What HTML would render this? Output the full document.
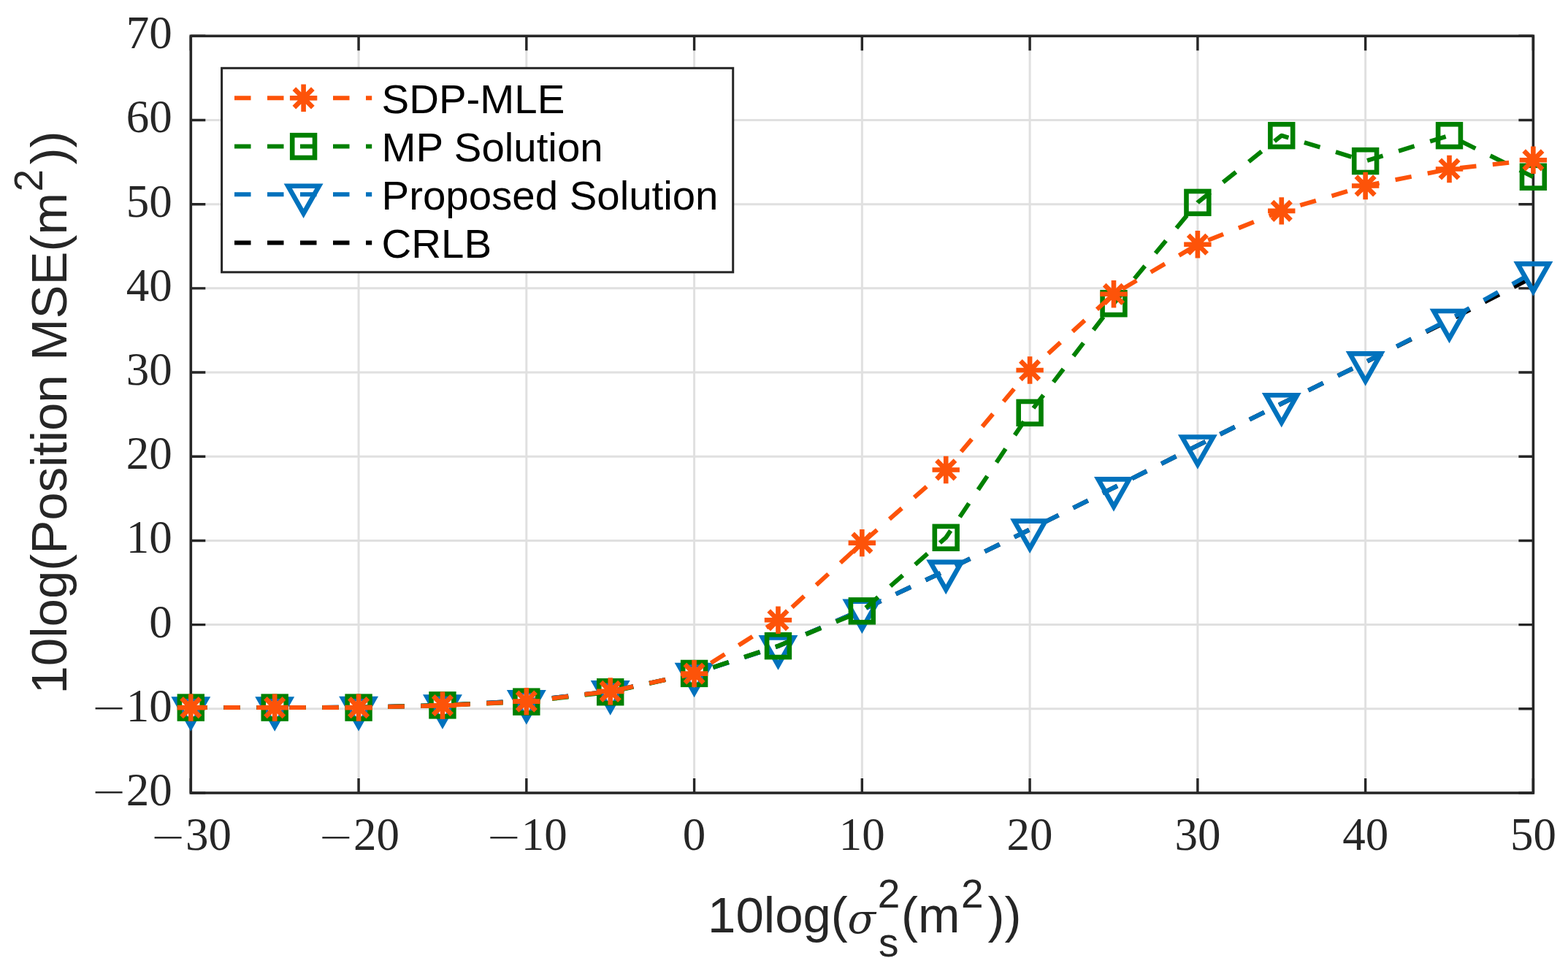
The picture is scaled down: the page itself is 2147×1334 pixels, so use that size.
<!DOCTYPE html><html><head><meta charset="utf-8"><title>Position MSE vs noise</title><style>html,body{margin:0;padding:0;background:#fff;width:2147px;height:1334px;overflow:hidden}svg{display:block}.tk{font-family:"Liberation Serif",serif;fill:#262626}.mn{font-family:"DejaVu Sans",sans-serif;font-weight:200;fill:#262626}.lb{font-family:"Liberation Sans",Arial,sans-serif;fill:#262626}.lg{font-family:"Liberation Sans",Arial,sans-serif;fill:#000}</style></head><body>
<svg width="2147" height="1334" viewBox="0 0 2147 1334">
<rect width="2147" height="1334" fill="#fff"/>
<path d="M491.06 49.3V1086M720.83 49.3V1086M950.59 49.3V1086M1180.35 49.3V1086M1410.11 49.3V1086M1639.88 49.3V1086M1869.64 49.3V1086M261.3 970.81H2099.4M261.3 855.62H2099.4M261.3 740.43H2099.4M261.3 625.24H2099.4M261.3 510.06H2099.4M261.3 394.87H2099.4M261.3 279.68H2099.4M261.3 164.49H2099.4" stroke="#e0e0e0" stroke-width="3.0" fill="none"/>
<path d="M261.3 1086V1066M261.3 49.3V69.3M491.06 1086V1066M491.06 49.3V69.3M720.83 1086V1066M720.83 49.3V69.3M950.59 1086V1066M950.59 49.3V69.3M1180.35 1086V1066M1180.35 49.3V69.3M1410.11 1086V1066M1410.11 49.3V69.3M1639.88 1086V1066M1639.88 49.3V69.3M1869.64 1086V1066M1869.64 49.3V69.3M2099.4 1086V1066M2099.4 49.3V69.3M261.3 1086H281.3M2099.4 1086H2079.4M261.3 970.81H281.3M2099.4 970.81H2079.4M261.3 855.62H281.3M2099.4 855.62H2079.4M261.3 740.43H281.3M2099.4 740.43H2079.4M261.3 625.24H281.3M2099.4 625.24H2079.4M261.3 510.06H281.3M2099.4 510.06H2079.4M261.3 394.87H281.3M2099.4 394.87H2079.4M261.3 279.68H281.3M2099.4 279.68H2079.4M261.3 164.49H281.3M2099.4 164.49H2079.4M261.3 49.3H281.3M2099.4 49.3H2079.4" stroke="#262626" stroke-width="3.4" fill="none"/>
<rect x="261.3" y="49.3" width="1838.1" height="1036.7" fill="none" stroke="#262626" stroke-width="3.6" stroke-linejoin="miter"/>
<polyline points="261.3,969.08 376.18,969.08 491.06,968.74 605.94,966.09 720.83,959.87 835.71,946.97 950.59,922.55 1065.47,885 1180.35,835.35 1295.23,781.44 1410.11,725.23 1524.99,667.98 1639.88,610.15 1754.76,552.79 1869.64,496 1984.52,438.64 2099.4,379.32" fill="none" stroke="#000000" stroke-width="6.0" stroke-dasharray="22.5 22.5" stroke-linejoin="round"/>
<polyline points="261.3,969.08 376.18,969.08 491.06,968.74 605.94,966.09 720.83,959.87 835.71,946.97 950.59,922.55 1065.47,885 1180.35,835.35 1295.23,781.44 1410.11,725.23 1524.99,667.98 1639.88,610.15 1754.76,552.79 1869.64,496 1984.52,437.6 2099.4,372.98" fill="none" stroke="#0072bd" stroke-width="6.0" stroke-dasharray="22.5 22.5" stroke-linejoin="round"/>
<polygon points="240,957.48 282.6,957.48 261.3,995.08" stroke="#0072bd" stroke-width="6.6" fill="none"/>
<polygon points="354.88,957.48 397.48,957.48 376.18,995.08" stroke="#0072bd" stroke-width="6.6" fill="none"/>
<polygon points="469.76,957.14 512.36,957.14 491.06,994.74" stroke="#0072bd" stroke-width="6.6" fill="none"/>
<polygon points="584.64,954.49 627.24,954.49 605.94,992.09" stroke="#0072bd" stroke-width="6.6" fill="none"/>
<polygon points="699.53,948.27 742.12,948.27 720.83,985.87" stroke="#0072bd" stroke-width="6.6" fill="none"/>
<polygon points="814.41,935.37 857.01,935.37 835.71,972.97" stroke="#0072bd" stroke-width="6.6" fill="none"/>
<polygon points="929.29,910.95 971.89,910.95 950.59,948.55" stroke="#0072bd" stroke-width="6.6" fill="none"/>
<polygon points="1044.17,873.4 1086.77,873.4 1065.47,911" stroke="#0072bd" stroke-width="6.6" fill="none"/>
<polygon points="1159.05,823.75 1201.65,823.75 1180.35,861.35" stroke="#0072bd" stroke-width="6.6" fill="none"/>
<polygon points="1273.93,769.84 1316.53,769.84 1295.23,807.44" stroke="#0072bd" stroke-width="6.6" fill="none"/>
<polygon points="1388.81,713.63 1431.41,713.63 1410.11,751.23" stroke="#0072bd" stroke-width="6.6" fill="none"/>
<polygon points="1503.69,656.38 1546.29,656.38 1524.99,693.98" stroke="#0072bd" stroke-width="6.6" fill="none"/>
<polygon points="1618.58,598.55 1661.17,598.55 1639.88,636.15" stroke="#0072bd" stroke-width="6.6" fill="none"/>
<polygon points="1733.46,541.19 1776.06,541.19 1754.76,578.79" stroke="#0072bd" stroke-width="6.6" fill="none"/>
<polygon points="1848.34,484.4 1890.94,484.4 1869.64,522" stroke="#0072bd" stroke-width="6.6" fill="none"/>
<polygon points="1963.22,426 2005.82,426 1984.52,463.6" stroke="#0072bd" stroke-width="6.6" fill="none"/>
<polygon points="2078.1,361.38 2120.7,361.38 2099.4,398.98" stroke="#0072bd" stroke-width="6.6" fill="none"/>
<polyline points="261.3,969.08 376.18,969.08 491.06,969.08 605.94,965.86 720.83,961.14 835.71,947.77 950.59,922.43 1065.47,884.65 1180.35,836.85 1295.23,736.29 1410.11,565.35 1524.99,415.72 1639.88,277.37 1754.76,185.68 1869.64,220.59 1984.52,185.68 2099.4,242.24" fill="none" stroke="#008000" stroke-width="6.0" stroke-dasharray="22.5 22.5" stroke-linejoin="round"/>
<rect x="245.9" y="953.68" width="30.8" height="30.8" stroke="#008000" stroke-width="6.6" fill="none"/>
<rect x="360.78" y="953.68" width="30.8" height="30.8" stroke="#008000" stroke-width="6.6" fill="none"/>
<rect x="475.66" y="953.68" width="30.8" height="30.8" stroke="#008000" stroke-width="6.6" fill="none"/>
<rect x="590.54" y="950.46" width="30.8" height="30.8" stroke="#008000" stroke-width="6.6" fill="none"/>
<rect x="705.43" y="945.74" width="30.8" height="30.8" stroke="#008000" stroke-width="6.6" fill="none"/>
<rect x="820.31" y="932.37" width="30.8" height="30.8" stroke="#008000" stroke-width="6.6" fill="none"/>
<rect x="935.19" y="907.03" width="30.8" height="30.8" stroke="#008000" stroke-width="6.6" fill="none"/>
<rect x="1050.07" y="869.25" width="30.8" height="30.8" stroke="#008000" stroke-width="6.6" fill="none"/>
<rect x="1164.95" y="821.45" width="30.8" height="30.8" stroke="#008000" stroke-width="6.6" fill="none"/>
<rect x="1279.83" y="720.89" width="30.8" height="30.8" stroke="#008000" stroke-width="6.6" fill="none"/>
<rect x="1394.71" y="549.95" width="30.8" height="30.8" stroke="#008000" stroke-width="6.6" fill="none"/>
<rect x="1509.59" y="400.32" width="30.8" height="30.8" stroke="#008000" stroke-width="6.6" fill="none"/>
<rect x="1624.47" y="261.97" width="30.8" height="30.8" stroke="#008000" stroke-width="6.6" fill="none"/>
<rect x="1739.36" y="170.28" width="30.8" height="30.8" stroke="#008000" stroke-width="6.6" fill="none"/>
<rect x="1854.24" y="205.19" width="30.8" height="30.8" stroke="#008000" stroke-width="6.6" fill="none"/>
<rect x="1969.12" y="170.28" width="30.8" height="30.8" stroke="#008000" stroke-width="6.6" fill="none"/>
<rect x="2084" y="226.84" width="30.8" height="30.8" stroke="#008000" stroke-width="6.6" fill="none"/>
<polyline points="261.3,969.08 376.18,969.08 491.06,969.08 605.94,966.2 720.83,960.67 835.71,946.85 950.59,922.66 1065.47,849.29 1180.35,743.66 1295.23,643.44 1410.11,507.06 1524.99,402.81 1639.88,334.74 1754.76,288.89 1869.64,254.45 1984.52,231.53 2099.4,219.32" fill="none" stroke="#fd5309" stroke-width="6.0" stroke-dasharray="22.5 22.5" stroke-linejoin="round"/>
<path d="M242.6 969.08H280M261.3 950.38V987.78M248.55 956.33L274.05 981.83M248.55 981.83L274.05 956.33" stroke="#fd5309" stroke-width="6.6" fill="none"/>
<path d="M357.48 969.08H394.88M376.18 950.38V987.78M363.43 956.33L388.93 981.83M363.43 981.83L388.93 956.33" stroke="#fd5309" stroke-width="6.6" fill="none"/>
<path d="M472.36 969.08H509.76M491.06 950.38V987.78M478.31 956.33L503.81 981.83M478.31 981.83L503.81 956.33" stroke="#fd5309" stroke-width="6.6" fill="none"/>
<path d="M587.24 966.2H624.64M605.94 947.5V984.9M593.19 953.45L618.69 978.95M593.19 978.95L618.69 953.45" stroke="#fd5309" stroke-width="6.6" fill="none"/>
<path d="M702.12 960.67H739.53M720.83 941.97V979.37M708.08 947.92L733.58 973.42M708.08 973.42L733.58 947.92" stroke="#fd5309" stroke-width="6.6" fill="none"/>
<path d="M817.01 946.85H854.41M835.71 928.15V965.55M822.96 934.1L848.46 959.6M822.96 959.6L848.46 934.1" stroke="#fd5309" stroke-width="6.6" fill="none"/>
<path d="M931.89 922.66H969.29M950.59 903.96V941.36M937.84 909.91L963.34 935.41M937.84 935.41L963.34 909.91" stroke="#fd5309" stroke-width="6.6" fill="none"/>
<path d="M1046.77 849.29H1084.17M1065.47 830.59V867.99M1052.72 836.54L1078.22 862.04M1052.72 862.04L1078.22 836.54" stroke="#fd5309" stroke-width="6.6" fill="none"/>
<path d="M1161.65 743.66H1199.05M1180.35 724.96V762.36M1167.6 730.91L1193.1 756.41M1167.6 756.41L1193.1 730.91" stroke="#fd5309" stroke-width="6.6" fill="none"/>
<path d="M1276.53 643.44H1313.93M1295.23 624.74V662.14M1282.48 630.69L1307.98 656.19M1282.48 656.19L1307.98 630.69" stroke="#fd5309" stroke-width="6.6" fill="none"/>
<path d="M1391.41 507.06H1428.81M1410.11 488.36V525.76M1397.36 494.31L1422.86 519.81M1397.36 519.81L1422.86 494.31" stroke="#fd5309" stroke-width="6.6" fill="none"/>
<path d="M1506.29 402.81H1543.69M1524.99 384.11V421.51M1512.24 390.06L1537.74 415.56M1512.24 415.56L1537.74 390.06" stroke="#fd5309" stroke-width="6.6" fill="none"/>
<path d="M1621.17 334.74H1658.58M1639.88 316.04V353.44M1627.12 321.99L1652.62 347.49M1627.12 347.49L1652.62 321.99" stroke="#fd5309" stroke-width="6.6" fill="none"/>
<path d="M1736.06 288.89H1773.46M1754.76 270.19V307.59M1742.01 276.14L1767.51 301.64M1742.01 301.64L1767.51 276.14" stroke="#fd5309" stroke-width="6.6" fill="none"/>
<path d="M1850.94 254.45H1888.34M1869.64 235.75V273.15M1856.89 241.7L1882.39 267.2M1856.89 267.2L1882.39 241.7" stroke="#fd5309" stroke-width="6.6" fill="none"/>
<path d="M1965.82 231.53H2003.22M1984.52 212.83V250.23M1971.77 218.78L1997.27 244.28M1971.77 244.28L1997.27 218.78" stroke="#fd5309" stroke-width="6.6" fill="none"/>
<path d="M2080.7 219.32H2118.1M2099.4 200.62V238.02M2086.65 206.57L2112.15 232.07M2086.65 232.07L2112.15 206.57" stroke="#fd5309" stroke-width="6.6" fill="none"/>
<text class="tk" x="235.79" y="1103" font-size="63" text-anchor="end">20</text>
<text class="mn" x="124.43" y="1104.26" font-size="59.11">&#8722;</text>
<text class="tk" x="235.79" y="987.81" font-size="63" text-anchor="end">10</text>
<text class="mn" x="124.43" y="989.07" font-size="59.11">&#8722;</text>
<text class="tk" x="235.79" y="872.62" font-size="63" text-anchor="end">0</text>
<text class="tk" x="235.79" y="757.43" font-size="63" text-anchor="end">10</text>
<text class="tk" x="235.79" y="642.24" font-size="63" text-anchor="end">20</text>
<text class="tk" x="235.79" y="527.06" font-size="63" text-anchor="end">30</text>
<text class="tk" x="235.79" y="411.87" font-size="63" text-anchor="end">40</text>
<text class="tk" x="235.79" y="296.68" font-size="63" text-anchor="end">50</text>
<text class="tk" x="235.79" y="181.49" font-size="63" text-anchor="end">60</text>
<text class="tk" x="235.79" y="66.3" font-size="63" text-anchor="end">70</text>
<text class="mn" x="205.61" y="1166.46" font-size="59.11">&#8722;</text>
<text class="tk" x="254.12" y="1163.6" font-size="63">30</text>
<text class="mn" x="435.37" y="1166.46" font-size="59.11">&#8722;</text>
<text class="tk" x="483.88" y="1163.6" font-size="63">20</text>
<text class="mn" x="665.13" y="1166.46" font-size="59.11">&#8722;</text>
<text class="tk" x="713.65" y="1163.6" font-size="63">10</text>
<text class="tk" x="950.59" y="1163.6" font-size="63" text-anchor="middle">0</text>
<text class="tk" x="1180.35" y="1163.6" font-size="63" text-anchor="middle">10</text>
<text class="tk" x="1410.11" y="1163.6" font-size="63" text-anchor="middle">20</text>
<text class="tk" x="1639.88" y="1163.6" font-size="63" text-anchor="middle">30</text>
<text class="tk" x="1869.64" y="1163.6" font-size="63" text-anchor="middle">40</text>
<text class="tk" x="2099.4" y="1163.6" font-size="63" text-anchor="middle">50</text>
<text class="lb" x="969.06" y="1276.9" font-size="69">10log(</text>
<text x="1160.51" y="1277.9" font-size="56.5" style="font-family:'DejaVu Serif',serif;font-style:italic;fill:#262626">&#963;</text>
<text class="lb" x="1201.85" y="1242.7" font-size="55">2</text>
<text class="lb" x="1203.06" y="1310.3" font-size="55">s</text>
<text class="lb" x="1234.02" y="1276.9" font-size="69">(m</text>
<text class="lb" x="1316.05" y="1242.7" font-size="55">2</text>
<text class="lb" x="1352.59" y="1276.9" font-size="69">))</text>
<text class="lb" transform="translate(91 950.54) rotate(-90)" font-size="69">10log(Position MSE(m</text>
<text class="lb" transform="translate(57.8 262.45) rotate(-90)" font-size="55">2</text>
<text class="lb" transform="translate(91 225.41) rotate(-90)" font-size="69">))</text>
<rect x="303.6" y="93.3" width="700.1" height="279.5" fill="#fff" stroke="#262626" stroke-width="3"/>
<path d="M321 134.3H509.2" stroke="#fd5309" stroke-width="6.0" stroke-dasharray="22.5 22.5" fill="none"/>
<path d="M396.9 134.3H434.3M415.6 115.6V153M402.85 121.55L428.35 147.05M402.85 147.05L428.35 121.55" stroke="#fd5309" stroke-width="6.6" fill="none"/>
<text class="lg" x="522.6" y="155.4" font-size="56.4">SDP-MLE</text>
<path d="M321 200.6H509.2" stroke="#008000" stroke-width="6.0" stroke-dasharray="22.5 22.5" fill="none"/>
<rect x="400.2" y="185.2" width="30.8" height="30.8" stroke="#008000" stroke-width="6.6" fill="none"/>
<text class="lg" x="522.6" y="221.1" font-size="56.4">MP Solution</text>
<path d="M321 266.3H509.2" stroke="#0072bd" stroke-width="6.0" stroke-dasharray="22.5 22.5" fill="none"/>
<polygon points="394.3,254.7 436.9,254.7 415.6,292.3" stroke="#0072bd" stroke-width="6.6" fill="none"/>
<text class="lg" x="522.6" y="286.8" font-size="56.4">Proposed Solution</text>
<path d="M321 332.5H509.2" stroke="#000000" stroke-width="6.0" stroke-dasharray="22.5 22.5" fill="none"/>
<text class="lg" x="522.6" y="352.7" font-size="56.4">CRLB</text>
</svg></body></html>
